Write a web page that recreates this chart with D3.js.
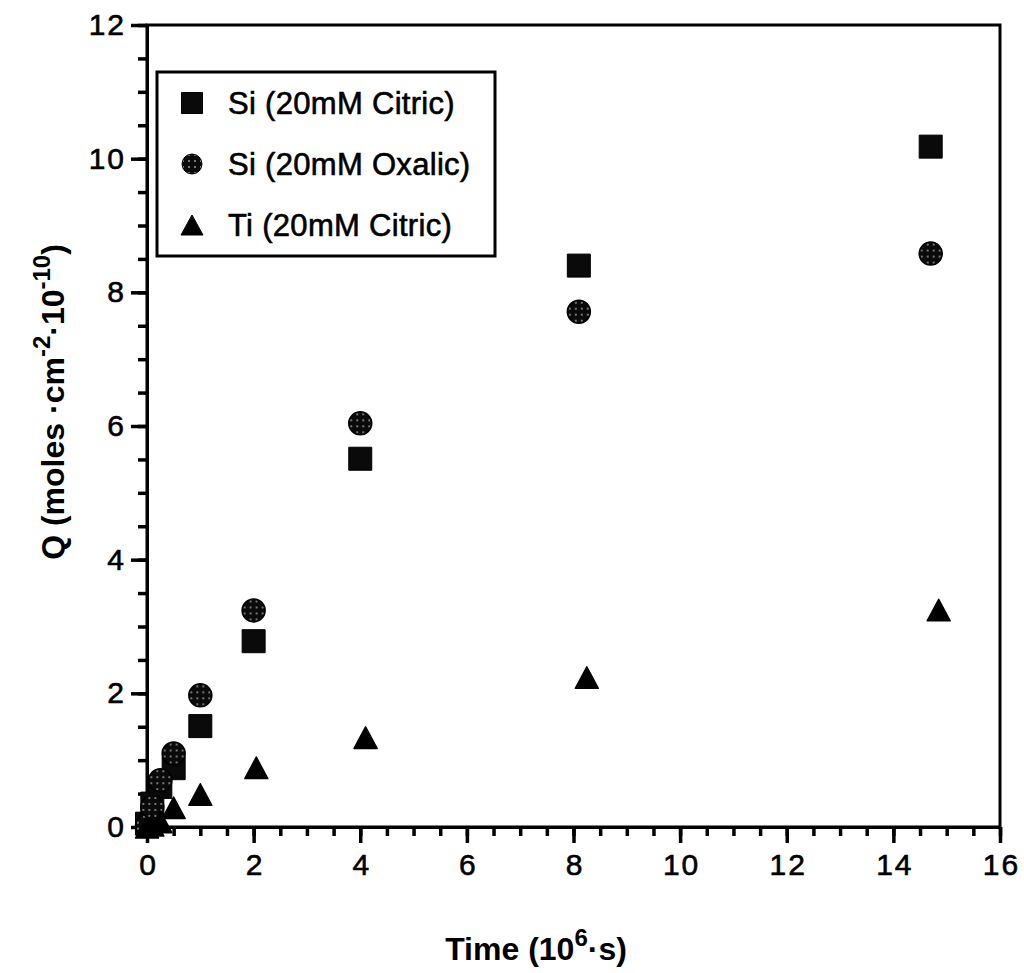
<!DOCTYPE html>
<html>
<head>
<meta charset="utf-8">
<script src="https://cdn.jsdelivr.net/npm/d3@7"></script>
<style>
  body { margin: 0; background: #fff; }
  svg { display: block; }
  .plotText { font-family: "Liberation Sans", Arial, Helvetica, sans-serif; fill: #000; }
  .heavy { stroke: #000; stroke-width: 0.6px; }
</style>
</head>
<body>
<div id="chart"></div>
<script>
// data (time in 10^6 s, Q in 10^-10 moles/cm2)
const siTime     = [0, 0.1, 0.25, 0.5, 1, 2, 4, 8.1, 14.7];
const siCitricQ  = [0.05, 0.35, 0.6, 0.88, 1.51, 2.78, 5.51, 8.4, 10.18];
const siOxalicQ  = [0.02, 0.3, 0.7, 1.1, 1.97, 3.24, 6.04, 7.71, 8.58];
const tiTime     = [0, 0.1, 0.25, 0.5, 1, 2.05, 4.1, 8.25, 14.85];
const tiCitricQ  = [0, 0.03, 0.08, 0.29, 0.49, 0.89, 1.34, 2.24, 3.25];

const xTicks = [0, 2, 4, 6, 8, 10, 12, 14, 16];
const yTicks = [0, 2, 4, 6, 8, 10, 12];
const seriesNames = ["Si (20mM Citric)", "Si (20mM Oxalic)", "Ti (20mM Citric)"];

let margin = {top: 25, right: 24, bottom: 146, left: 147},
    width = 1024 - margin.left - margin.right,
    height = 973 - margin.top - margin.bottom;

let svg = d3.select("#chart")
    .append("svg")
    .attr("width", 1024)
    .attr("height", 973);

// dotted fill for the oxalic circles
let pat = svg.append("defs").append("pattern")
    .attr("id", "speckle")
    .attr("patternUnits", "userSpaceOnUse")
    .attr("width", 6).attr("height", 6);
pat.append("rect").attr("width", 6).attr("height", 6).attr("fill", "#0a0a0a");
pat.append("circle").attr("cx", 3).attr("cy", 3).attr("r", 0.8).attr("fill", "#fff");

let g = svg.append("g")
    .attr("transform", `translate(${margin.left}, ${margin.top})`);

let x = d3.scaleLinear().domain([0, 16]).range([0, width]);
let y = d3.scaleLinear().domain([0, 12]).range([height, 0]);

function thick(a) {
    a.selectAll("line").style("stroke", "#000").style("stroke-width", "3.5px");
    a.select(".domain").style("stroke", "#000").style("stroke-width", "3px");
}

// minor ticks
g.append("g")
    .attr("transform", `translate(0, ${height})`)
    .call(d3.axisBottom(x).tickValues(d3.range(0, 16.01, 0.5)).tickSize(9).tickSizeOuter(0).tickFormat(""))
    .call(thick);
g.append("g")
    .call(d3.axisLeft(y).tickValues(d3.range(0, 12.01, 0.5)).tickSize(9).tickSizeOuter(0).tickFormat(""))
    .call(thick);

// major ticks + labels
g.append("g")
    .attr("transform", `translate(0, ${height})`)
    .call(d3.axisBottom(x).tickValues(xTicks).tickSize(16).tickSizeOuter(0).tickPadding(11).tickFormat(d3.format("d")))
    .call(thick)
    .call(a => a.selectAll("text").attr("class", "plotText heavy")
        .style("font-size", "30px").style("letter-spacing", "2px").attr("dx", 1));
g.append("g")
    .call(d3.axisLeft(y).tickValues(yTicks).tickSize(16).tickSizeOuter(0).tickPadding(5).tickFormat(d3.format("d")))
    .call(thick)
    .call(a => a.selectAll("text").attr("class", "plotText heavy")
        .style("font-size", "30px").style("letter-spacing", "2px"));

// frame
g.append("rect")
    .attr("x", 0).attr("y", 0)
    .attr("width", width).attr("height", height)
    .attr("fill", "none")
    .attr("stroke", "#000")
    .attr("stroke-width", 3);

// markers
const squarePath = d3.symbol().type(d3.symbolSquare).size(23 * 23)();
const circlePath = d3.symbol().type(d3.symbolCircle).size(Math.PI * 11.5 * 11.5)();
const trianglePath = "M0,-10.5L11.5,11L-11.5,11Z";

g.selectAll(".sqDot")
    .data(d3.zip(siTime, siCitricQ))
    .join("path")
    .attr("class", "sqDot")
    .attr("d", squarePath)
    .attr("transform", d => `translate(${x(d[0])}, ${y(d[1])})`)
    .attr("fill", "#0a0a0a")
    .attr("stroke", "#000")
    .attr("stroke-width", 1);

g.selectAll(".circDot")
    .data(d3.zip(siTime, siOxalicQ))
    .join("path")
    .attr("class", "circDot")
    .attr("d", circlePath)
    .attr("transform", d => `translate(${x(d[0])}, ${y(d[1])})`)
    .attr("fill", "url(#speckle)")
    .attr("stroke", "#000")
    .attr("stroke-width", 1.5);

g.selectAll(".triDot")
    .data(d3.zip(tiTime, tiCitricQ))
    .join("path")
    .attr("class", "triDot")
    .attr("d", trianglePath)
    .attr("transform", d => `translate(${x(d[0])}, ${y(d[1])})`)
    .attr("fill", "#000")
    .attr("stroke", "#000")
    .attr("stroke-width", 1.5)
    .attr("stroke-linejoin", "round");

// legend
let legend = svg.append("g").attr("transform", "translate(157, 72)");
legend.append("rect")
    .attr("width", 338).attr("height", 184)
    .attr("fill", "#fff")
    .attr("stroke", "#000")
    .attr("stroke-width", 3);

const legendMarks = [
    {d: d3.symbol().type(d3.symbolSquare).size(21 * 21)(), fill: "#0a0a0a"},
    {d: d3.symbol().type(d3.symbolCircle).size(Math.PI * 10 * 10)(), fill: "url(#speckle)"},
    {d: "M0,-10L11,10L-11,10Z", fill: "#000"}
];
seriesNames.forEach(function(name, i) {
    let row = legend.append("g").attr("transform", `translate(0, ${31 + i * 61})`);
    row.append("path")
        .attr("d", legendMarks[i].d)
        .attr("transform", "translate(35, 0)")
        .attr("fill", legendMarks[i].fill)
        .attr("stroke", "#000")
        .attr("stroke-width", 1);
    row.append("text")
        .attr("class", "plotText heavy")
        .attr("x", 71)
        .attr("y", 11)
        .style("font-size", "31px")
        .style("letter-spacing", "0.3px")
        .text(name);
});

// axis titles
let xt = svg.append("text")
    .attr("class", "plotText")
    .attr("text-anchor", "middle")
    .attr("x", 536)
    .attr("y", 960)
    .style("font-size", "32px")
    .style("font-weight", "bold");
xt.append("tspan").text("Time (10");
xt.append("tspan").attr("dy", -14).style("font-size", "24px").text("6");
xt.append("tspan").attr("dy", 14).text("·s)");

let yt = svg.append("text")
    .attr("class", "plotText")
    .attr("text-anchor", "middle")
    .attr("transform", "translate(64, 402) rotate(-90)")
    .style("font-size", "32px")
    .style("font-weight", "bold");
yt.append("tspan").text("Q (moles ·cm");
yt.append("tspan").attr("dy", -14).style("font-size", "24px").text("-2");
yt.append("tspan").attr("dy", 14).text("·10");
yt.append("tspan").attr("dy", -14).style("font-size", "24px").text("-10");
yt.append("tspan").attr("dy", 14).text(")");
</script>
</body>
</html>
